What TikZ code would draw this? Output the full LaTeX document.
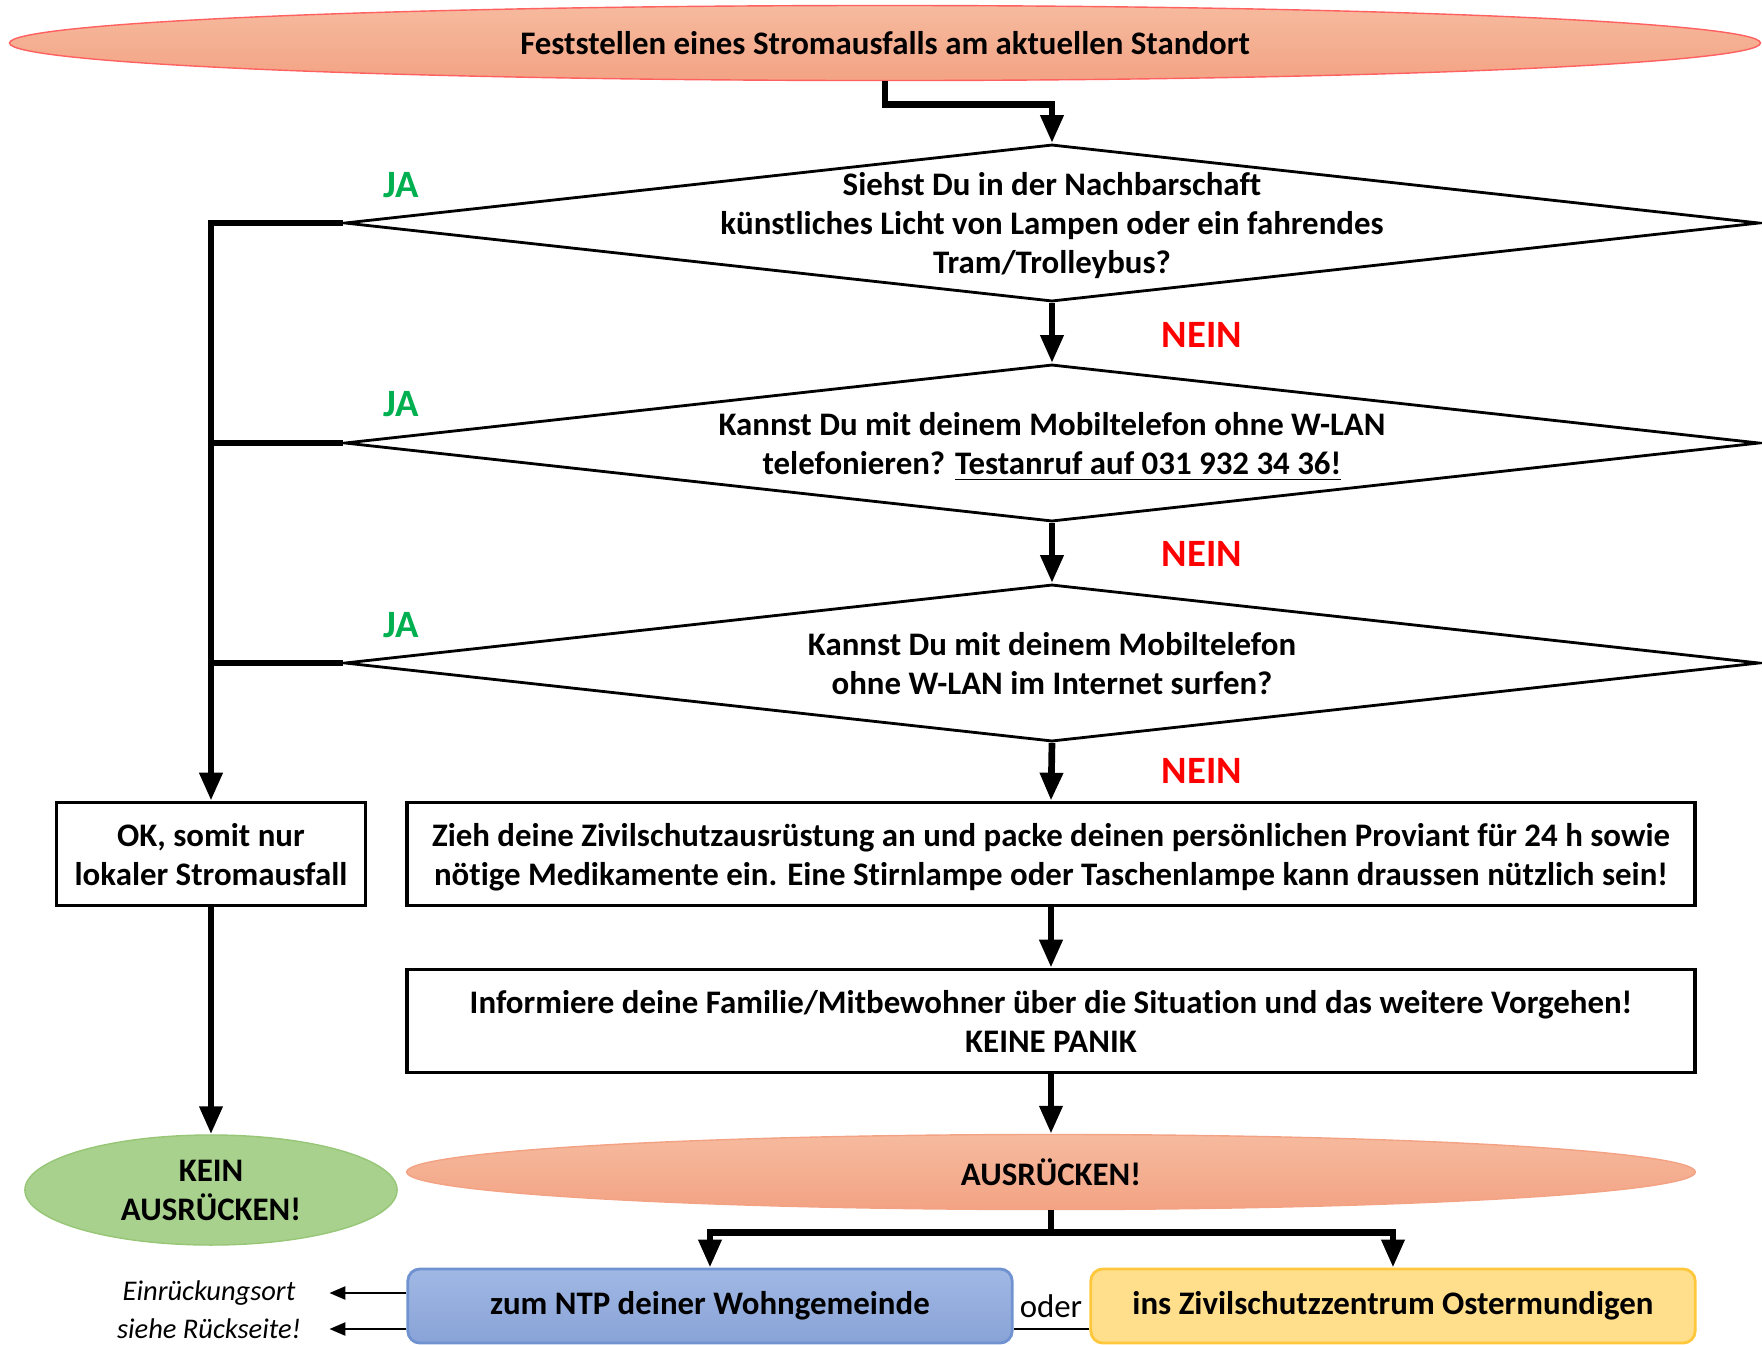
\documentclass[tikz,border=0pt]{standalone}
\usepackage{fontspec}
\setmainfont{Carlito}[Ligatures=NoCommon]
\usepackage{tikz}
\usetikzlibrary{shapes.geometric,arrows.meta}

\definecolor{lachs}{RGB}{246,186,158}
\definecolor{lachsdunkel}{RGB}{243,163,132}
\definecolor{lachsrand}{RGB}{255,96,96}
\definecolor{gruen}{RGB}{169,209,142}
\definecolor{gruenrand}{RGB}{150,198,118}
\definecolor{blau}{RGB}{160,184,228}
\definecolor{blaudunkel}{RGB}{137,163,215}
\definecolor{blaurand}{RGB}{112,146,208}
\definecolor{gelb}{RGB}{255,222,140}
\definecolor{gelbrand}{RGB}{255,200,60}
\definecolor{jagruen}{RGB}{0,176,80}
\definecolor{neinrot}{RGB}{255,0,0}

\tikzset{
  every node/.style={font=\fontsize{9.35}{11.1}\selectfont\bfseries},
  decision/.style={diamond, draw, line width=0.8pt, inner sep=0pt,
    minimum width=14.14cm, minimum height=1.57cm},
  qtext/.style={align=center, inner sep=0pt, text depth=0pt},
  actbox/.style={rectangle, draw, line width=1pt, align=center, text depth=0pt, minimum height=1.03cm},
  oval/.style={ellipse, inner sep=0pt, align=center, top color=lachs, bottom color=lachsdunkel},
  target/.style={rectangle, rounded corners=0.12cm, inner sep=0pt,
    minimum width=6.04cm, minimum height=0.74cm, line width=0.8pt},
  flow/.style={line width=1.9pt},
  flowarrow/.style={flow, -{Triangle[length=0.28cm,width=0.22cm]}},
  ja/.style={text=jagruen, font=\fontsize{11}{13}\selectfont\bfseries},
  nein/.style={text=neinrot, font=\fontsize{11}{13}\selectfont\bfseries},
  hint/.style={font=\fontsize{8.1}{10}\selectfont\itshape},
  hintarrow/.style={line width=0.7pt, -{Triangle[length=0.16cm,width=0.13cm]}}
}

\begin{document}
\begin{tikzpicture}[x=0.01cm, y=-0.01cm]
  \useasboundingbox (0,0) rectangle (1762,1344);
  \clip (0,0) rectangle (1762,1344);
  %this draws the nodes
  \node [oval, draw=lachsrand, minimum width=17.5cm, minimum height=0.75cm] (start) at (885,43) {Feststellen eines Stromausfalls am aktuellen Standort};
  \node [decision] (q1) at (1052,223) {};
  \node [qtext] (q1t) at (q1) {Siehst Du in der Nachbarschaft\\künstliches Licht von Lampen oder ein fahrendes\\Tram/Trolleybus?};
  \node [decision] (q2) at (1052,443) {};
  \node [qtext] (q2t) at (q2) {Kannst Du mit deinem Mobiltelefon ohne W-LAN\\telefonieren? \underline{Testanruf auf 031 932 34 36!}};
  \node [decision] (q3) at (1052,663) {};
  \node [qtext] (q3t) at (q3) {Kannst Du mit deinem Mobiltelefon\\ohne W-LAN im Internet surfen?};
  \node [actbox, minimum width=3.09cm] (local) at (211,854) {OK, somit nur\\lokaler Stromausfall};
  \node [actbox, minimum width=12.87cm] (prep) at (1051,854) {Zieh deine Zivilschutzausrüstung an und packe deinen persönlichen Proviant für 24 h sowie\\nötige Medikamente ein. Eine Stirnlampe oder Taschenlampe kann draussen nützlich sein!};
  \node [actbox, minimum width=12.87cm] (inform) at (1051,1021) {Informiere deine Familie/Mitbewohner über die Situation und das weitere Vorgehen!\\KEINE PANIK};
  \node [oval, draw=gruenrand, top color=gruen, bottom color=gruen, minimum width=3.72cm, minimum height=1.10cm] (stay) at (211,1190) {KEIN\\AUSRÜCKEN!};
  \node [oval, draw=lachsdunkel, minimum width=12.88cm, minimum height=0.75cm] (go) at (1051,1172) {AUSRÜCKEN!};
  \node [target, draw=blaurand, top color=blau, bottom color=blaudunkel] (ntp) at (710,1306) {zum NTP deiner Wohngemeinde};
  \node [target, draw=gelbrand, fill=gelb] (zsz) at (1393,1306) {ins Zivilschutzzentrum Ostermundigen};
  \node [font=\fontsize{9.35}{11.1}\selectfont] (oder) at (1051,1306) {oder};
  \node [hint] (ort1) at (209,1293) {Einrückungsort};
  \node [hint] (ort2) at (209,1329) {siehe Rückseite!};
  %this draws the answers
  \foreach \y/\n in {185/1,404/2,625/3}
    \node [ja] (ja\n) at (401,\y) {JA};
  \foreach \y/\n in {335/1,554/2,771/3}
    \node [nein] (nein\n) at (1202,\y) {NEIN};
  %this draws the lines
  \draw [flowarrow] (start.south) -- ++(0,23) -| (q1.north);
  \foreach \x in {1,2}
    \pgfmathtruncatemacro{\nextq}{\x + 1}
    \draw [flowarrow] (q\x.south) to (q\nextq.north);
  \draw [flowarrow] (q3.south) -- (prep.north);
  \draw [flowarrow] (prep.south) -- (inform.north);
  \draw [flowarrow] (inform.south) -- (go.north);
  \draw [flowarrow] (q1.west) -| (local.north);
  \draw [flow] (q2.west) -- (q2.west -| local.north);
  \draw [flow] (q3.west) -- (q3.west -| local.north);
  \draw [flowarrow] (local.south) -- (stay.north);
  \draw [flow] (go.south) -- ++(0,22) coordinate (split);
  \draw [flowarrow] (split) -| (ntp.north);
  \draw [flowarrow] (split) -| (zsz.north);
  \draw [hintarrow] (ntp.west |- ort1) -- ++(-77,0);
  \draw [hintarrow] (ntp.west |- ort2) -- ++(-77,0);
  \draw [line width=0.7pt] (ntp.east |- ort2) -- (zsz.west |- ort2);
\end{tikzpicture}
\end{document}
